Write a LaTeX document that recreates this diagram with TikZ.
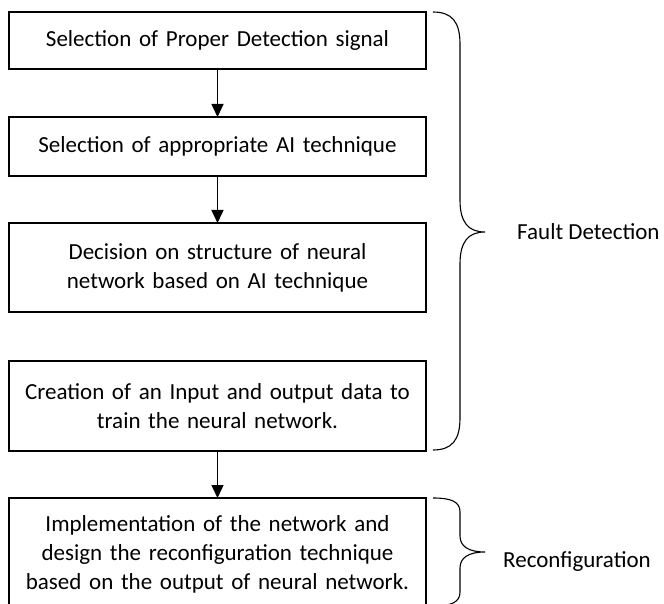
\documentclass[tikz,border=0pt]{standalone}
\usepackage{fontspec}
\setmainfont{Carlito}
\usetikzlibrary{arrows.meta}
\tikzset{
  stage/.style={draw, line width=1.2pt, minimum width=417pt, text width=412pt,
    align=center, inner sep=0pt, outer sep=0pt, font=\fontsize{23}{29}\selectfont},
  flow/.style={line width=1.5pt, -{Triangle[width=12pt,length=13pt]}},
  curly/.style={line width=1.1pt},
  tag/.style={anchor=west, inner sep=0pt, font=\fontsize{23}{29}\selectfont}
}
\begin{document}
\begin{tikzpicture}[x=1pt,y=-1pt]
  \useasboundingbox (0,0) rectangle (664,604);
  \node[stage, minimum height=57pt] (sig) at (217.5,40.5) {Selection of Proper Detection signal};
  \node[stage, minimum height=59pt] (tech) at (217.5,146.5) {Selection of appropriate AI technique};
  \node[stage, minimum height=89pt] (struct) at (217.5,267.5) {Decision on structure of neural\\network based on AI technique};
  \node[stage, minimum height=90pt] (data) at (217.5,406) {Creation of an Input and output data to\\train the neural network.};
  \node[stage, minimum height=112pt] (impl) at (217.5,554) {Implementation of the network and\\design the reconfiguration technique\\based on the output of neural network.};
  \draw[flow] (sig) -- (tech);
  \draw[flow] (tech) -- (struct);
  \draw[flow] (data) -- (impl);
  % braces
  \draw[curly] (433,12) .. controls (452,12) and (460,22) .. (460,44) -- (460,200)
    .. controls (460,222) and (468,232) .. (485,232)
    .. controls (468,232) and (460,242) .. (460,264) -- (460,418)
    .. controls (460,440) and (452,450) .. (433,450);
  \draw[curly] (433,498) .. controls (452,498) and (460,502) .. (460,512) -- (460,536)
    .. controls (460,546) and (468,552) .. (485,552)
    .. controls (468,552) and (460,558) .. (460,568) -- (460,592)
    .. controls (460,602) and (452,606) .. (433,606);
  \node[tag] (fault) at (517,232) {Fault Detection};
  \node[tag] (reconf) at (503,562) {Reconfiguration};
\end{tikzpicture}
\end{document}
